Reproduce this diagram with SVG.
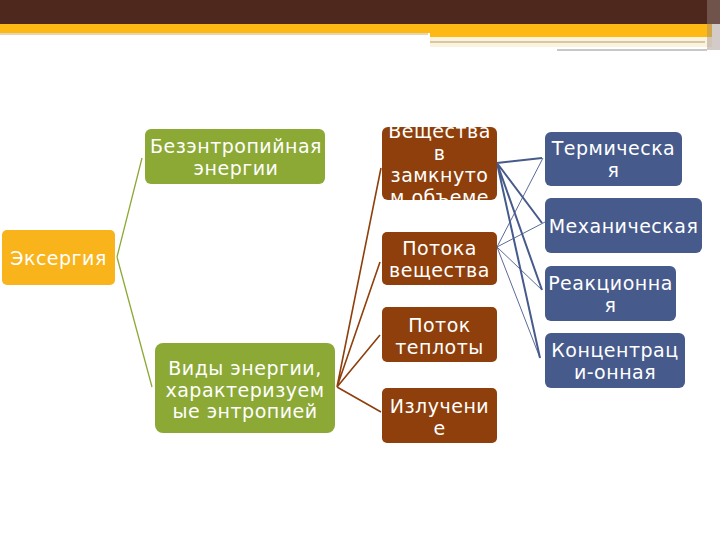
<svg xmlns="http://www.w3.org/2000/svg" width="720" height="540" viewBox="0 0 720 540">
<style>
.t{font-family:"DejaVu Sans","Noto Sans",sans-serif;font-size:19px;fill:#ffffff;text-anchor:middle;letter-spacing:0.5px}
.org{fill:#F8B41A}
.grn{fill:#8CA936}
.brn{fill:#8E3F0B}
.blu{fill:#475A8C}
.cg{stroke:#8CA936;stroke-width:1.3;fill:none}
.cb{stroke:#8E3F0B;stroke-width:1.6;fill:none}
.cu1{stroke:#475A8C;stroke-width:2;fill:none}
.cu2{stroke:#475A8C;stroke-width:0.9;fill:none}
</style>
<defs>
<clipPath id="clip1"><rect x="382" y="127" width="115" height="73" rx="6"/></clipPath>
</defs>
<rect width="720" height="540" fill="#ffffff"/>
<g id="header">
<rect x="0" y="0" width="720" height="24" fill="#4E271D"/>
<rect x="0" y="24" width="712" height="9" fill="#FDB813"/>
<rect x="430" y="33" width="282" height="4" fill="#FDB813"/>
<rect x="0" y="33" width="428" height="2" fill="#E6D6AE"/>
<rect x="430" y="37" width="282" height="10" fill="#FBF3DD"/>
<rect x="430" y="41" width="275" height="2" fill="#D8C7A0"/>
<rect x="557" y="49" width="150" height="2" fill="#C8C8C8"/>
<rect x="707" y="0" width="13" height="50" fill="#9C8C84" opacity="0.45"/>
</g>
<g id="connectors">
<path class="cg" d="M117 257 L142 158 M117 257 L152 387"/>
<path class="cb" d="M337 387 L381 168 M337 387 L380 262 M337 387 L380 335 M337 387 L381 412"/>
<path class="cu1" d="M497 163 L542 158 M497 163 L542 223 M497 163 L542 290 M497 163 L540 358"/>
<path class="cu2" d="M497 247 L543 158 M497 247 L545 222 M497 247 L542 290 M497 247 L540 358"/>
</g>
<g id="n-exergy">
<rect class="org" x="2" y="230" width="113" height="55" rx="5"/>
<text class="t" x="58.5" y="265">Эксергия</text>
</g>
<g id="n-bezentrop">
<rect class="grn" x="145" y="129" width="180" height="55" rx="6"/>
<text class="t" x="236" y="153">Безэнтропийная</text>
<text class="t" x="236" y="175">энергии</text>
</g>
<g id="n-vidy">
<rect class="grn" x="155" y="343" width="180" height="90" rx="8"/>
<text class="t" x="245" y="375">Виды энергии,</text>
<text class="t" x="245" y="397">характеризуем</text>
<text class="t" x="245" y="418">ые энтропией</text>
</g>
<g id="n-veshch">
<rect class="brn" x="382" y="127" width="115" height="73" rx="6"/>
<g clip-path="url(#clip1)">
<text class="t" x="439.5" y="138">Вещества</text>
<text class="t" x="439.5" y="160">в</text>
<text class="t" x="439.5" y="182">замкнуто</text>
<text class="t" x="439.5" y="204">м объеме</text>
</g>
</g>
<g id="n-potoka">
<rect class="brn" x="382" y="232" width="115" height="53" rx="5"/>
<text class="t" x="439.5" y="255">Потока</text>
<text class="t" x="439.5" y="277">вещества</text>
</g>
<g id="n-teplo">
<rect class="brn" x="382" y="307" width="115" height="55" rx="5"/>
<text class="t" x="439.5" y="332">Поток</text>
<text class="t" x="439.5" y="354">теплоты</text>
</g>
<g id="n-izl">
<rect class="brn" x="382" y="388" width="115" height="55" rx="5"/>
<text class="t" x="439.5" y="413">Излучени</text>
<text class="t" x="439.5" y="435">е</text>
</g>
<g id="n-term">
<rect class="blu" x="545" y="132" width="137" height="54" rx="6"/>
<text class="t" x="613.5" y="155">Термическа</text>
<text class="t" x="613.5" y="177">я</text>
</g>
<g id="n-mech">
<rect class="blu" x="545" y="198" width="157" height="55" rx="6"/>
<text class="t" x="623.5" y="233">Механическая</text>
</g>
<g id="n-react">
<rect class="blu" x="545" y="266" width="131" height="55" rx="6"/>
<text class="t" x="610.5" y="290">Реакционна</text>
<text class="t" x="610.5" y="312">я</text>
</g>
<g id="n-konc">
<rect class="blu" x="545" y="333" width="140" height="55" rx="6"/>
<text class="t" x="615" y="357">Концентрац</text>
<text class="t" x="615" y="379">и-онная</text>
</g>
</svg>
